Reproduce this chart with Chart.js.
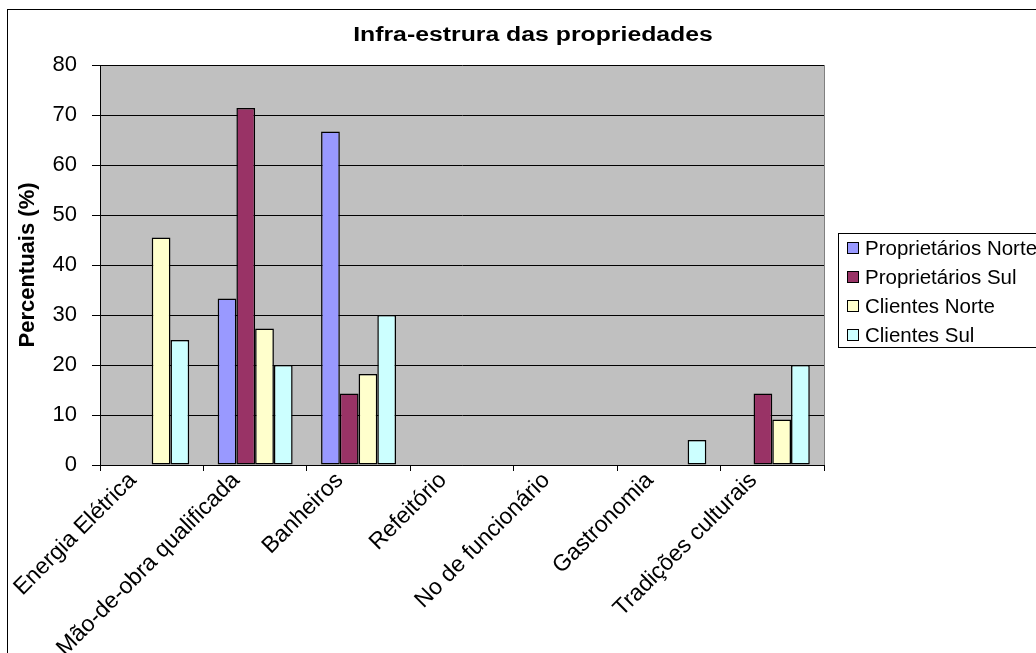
<!DOCTYPE html>
<html>
<head>
<meta charset="utf-8">
<title>Infra-estrura das propriedades</title>
<script src="https://cdn.jsdelivr.net/npm/chart.js@4/dist/chart.umd.min.js"></script>
<style>
    body { margin: 0; background: #fff; overflow: hidden; }
    #chart { display: block; }
</style>
</head>
<body>
<canvas id="chart" width="1036" height="653"></canvas>
<script>
const chartTitle = "Infra-estrura das propriedades";
const axisTitle = "Percentuais (%)";
const categories = ["Energia Elétrica", "Mão-de-obra qualificada", "Banheiros", "Refeitório", "No de funcionário", "Gastronomia", "Tradições culturais"];
const seriesNames = ["Proprietários Norte", "Proprietários Sul", "Clientes Norte", "Clientes Sul"];
const propNorte = [0, 33.3, 66.7, 0, 0, 0, 0];
const propSul = [0, 71.4, 14.3, 0, 0, 0, 14.3];
const clientesNorte = [45.5, 27.3, 18.2, 0, 0, 0, 9.1];
const clientesSul = [25, 20, 30, 0, 0, 5, 20];
const seriesColors = ["#9999FF", "#993366", "#FFFFCC", "#CCFFFF"];
const yTicks = [0, 10, 20, 30, 40, 50, 60, 70, 80];

const fontFamily = "'Liberation Sans', Arial, sans-serif";

function makeDataset(i, values) {
    return {
        label: seriesNames[i],
        data: values,
        backgroundColor: seriesColors[i],
        borderColor: "#000",
        borderWidth: ctx => ctx.raw ? 1.5 : 0,
        borderSkipped: false,
        categoryPercentage: 0.725,
        barPercentage: 1
    };
}

// fundo cinza da área do gráfico e moldura externa
const plotBackground = {
    id: "plotBackground",
    beforeDraw(chart) {
        const ctx = chart.ctx;
        const area = chart.chartArea;
        ctx.save();
        ctx.strokeStyle = "#000";
        ctx.lineWidth = 1;
        ctx.strokeRect(7.5, 9.5, 1100, 700);
        ctx.fillStyle = "#C0C0C0";
        ctx.fillRect(area.left, area.top, area.right - area.left, area.bottom - area.top);
        ctx.restore();
    },
    afterDatasetsDraw(chart) {
        const ctx = chart.ctx;
        const area = chart.chartArea;
        ctx.save();
        ctx.strokeStyle = "#808080";
        ctx.lineWidth = 1;
        ctx.beginPath();
        ctx.moveTo(Math.round(area.right) + 0.5, area.top);
        ctx.lineTo(Math.round(area.right) + 0.5, area.bottom);
        ctx.stroke();
        ctx.restore();
    }
};

// título e legenda desenhados à mão (posição como no original)
const titleAndLegend = {
    id: "titleAndLegend",
    afterDraw(chart) {
        const ctx = chart.ctx;
        ctx.save();
        ctx.fillStyle = "#000";
        ctx.font = "bold 20px " + fontFamily;
        ctx.textAlign = "center";
        ctx.textBaseline = "alphabetic";
        ctx.save();
        ctx.translate(533, 41);
        ctx.scale(1.24, 1);
        ctx.fillText(chartTitle, 0, 0);
        ctx.restore();

        ctx.strokeStyle = "#000";
        ctx.lineWidth = 1;
        ctx.strokeRect(838.5, 233.5, 300, 114);

        ctx.font = "20.5px " + fontFamily;
        ctx.textAlign = "left";
        ctx.textBaseline = "middle";
        chart.data.datasets.forEach((ds, i) => {
            const y = 248 + i * 29;
            ctx.fillStyle = ds.backgroundColor;
            ctx.fillRect(848, y - 5, 10, 10);
            ctx.strokeRect(847.5, y - 5.5, 11, 11);
            ctx.fillStyle = "#000";
            ctx.fillText(ds.label, 865, y + 1);
        });
        ctx.restore();
    }
};

new Chart(document.getElementById("chart"), {
    type: "bar",
    data: {
        labels: categories,
        datasets: [
            makeDataset(0, propNorte),
            makeDataset(1, propSul),
            makeDataset(2, clientesNorte),
            makeDataset(3, clientesSul)
        ]
    },
    options: {
        responsive: false,
        animation: false,
        layout: { padding: { left: 0, top: 65, right: 212, bottom: 0 } },
        plugins: {
            legend: { display: false },
            title: { display: false },
            tooltip: { enabled: false }
        },
        scales: {
            x: {
                grid: { display: true, drawOnChartArea: false, offset: true, color: "#000", tickLength: 6 },
                border: { display: true, color: "#000" },
                ticks: {
                    color: "#000",
                    font: { family: fontFamily, size: 23 },
                    minRotation: 45,
                    maxRotation: 45,
                    autoSkip: false,
                    padding: -4,
                    labelOffset: -19
                },
                afterFit(scale) { scale.height = 188; }
            },
            y: {
                min: 0,
                max: 80,
                afterBuildTicks(scale) { scale.ticks = yTicks.map(v => ({ value: v })); },
                grid: { color: "#000", tickLength: 8 },
                border: { display: true, color: "#000" },
                ticks: {
                    color: "#000",
                    font: { family: fontFamily, size: 22 },
                    padding: 15
                },
                title: {
                    display: true,
                    text: axisTitle,
                    color: "#000",
                    font: { family: fontFamily, size: 22, weight: "bold" },
                    padding: { top: 15, bottom: 0 }
                },
                afterFit(scale) { scale.width = 100; }
            }
        }
    },
    plugins: [plotBackground, titleAndLegend]
});
</script>
</body>
</html>
